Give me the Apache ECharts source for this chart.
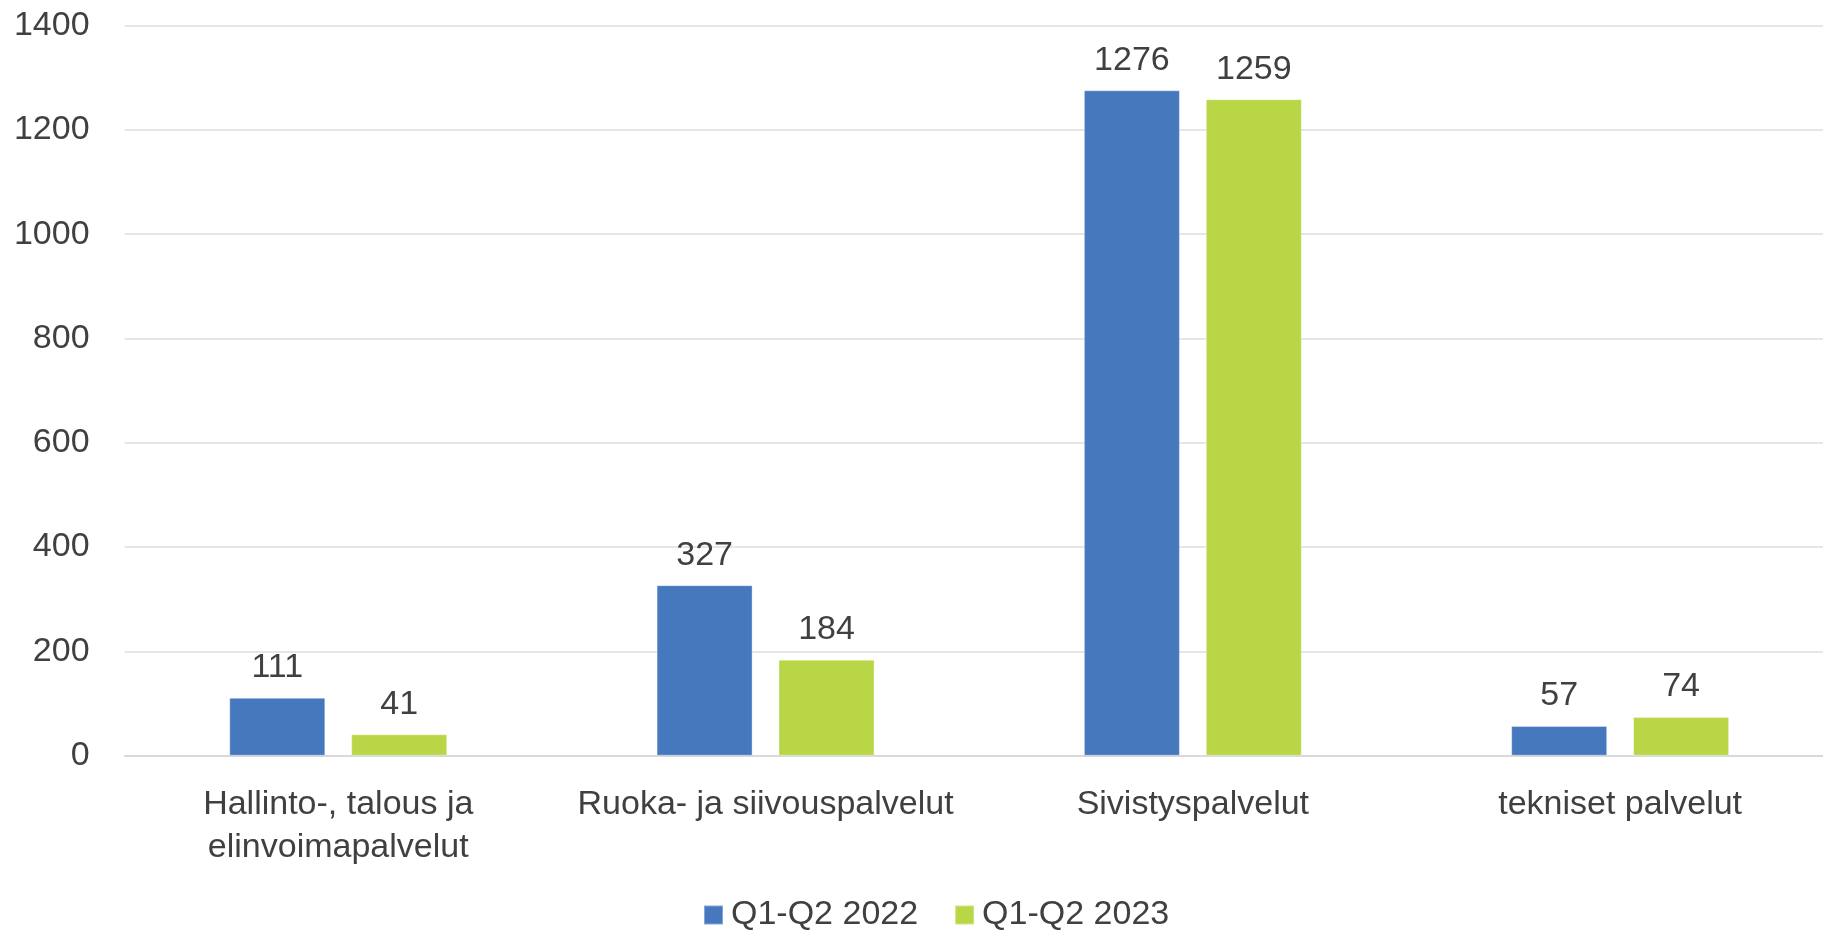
<!DOCTYPE html>
<html>
<head>
<meta charset="utf-8">
<script src="https://cdn.jsdelivr.net/npm/echarts@6/dist/echarts.min.js"></script>
<style>
html,body{margin:0;padding:0;background:#fff;}
#c{width:1823px;height:932px;}
</style>
</head>
<body>
<div id="c"></div>
<script>
const categories = ['Hallinto-, talous ja\nelinvoimapalvelut', 'Ruoka- ja siivouspalvelut', 'Sivistyspalvelut', 'tekniset palvelut'];
const seriesNames = ['Q1-Q2 2022', 'Q1-Q2 2023'];
const values2022 = [111, 327, 1276, 57];
const values2023 = [41, 184, 1259, 74];
const yTicks = { min: 0, max: 1400, interval: 200 };

const FONT = '"Liberation Sans", Arial, sans-serif';
const TXT = '#404040';
const FS = 34;
const colors = ['#4678BE', '#B9D646'];

const chart = echarts.init(document.getElementById('c'));
const mk = (name, data, color) => ({
  name, type: 'bar', data,
  barWidth: 96, barGap: '27%',
  itemStyle: { color, borderColor: 'rgba(255,255,255,0.35)', borderWidth: 1 },
  label: { show: true, position: 'top', distance: 13, color: TXT, fontFamily: FONT, fontSize: FS },
  emphasis: { disabled: true }
});
chart.setOption({
  animation: false,
  grid: { left: 124.6, width: 1709.2, top: 25.6, bottom: 176.3, outerBoundsMode: 'none', containLabel: false },
  legend: {
    data: seriesNames, top: 893, left: 698,
    itemWidth: 19, itemHeight: 19, itemGap: 36,
    icon: 'rect',
    textStyle: { color: TXT, fontFamily: FONT, fontSize: FS, padding: [0, 0, 0, 3] }
  },
  xAxis: {
    type: 'category', data: categories,
    axisLine: { show: true, lineStyle: { color: '#D9D9D9', width: 2 } },
    axisTick: { show: false },
    axisLabel: { color: TXT, fontFamily: FONT, fontSize: FS, margin: 27, lineHeight: 43, interval: 0 }
  },
  yAxis: {
    type: 'value', min: yTicks.min, max: yTicks.max, interval: yTicks.interval,
    axisLine: { show: false }, axisTick: { show: false },
    axisLabel: { color: TXT, fontFamily: FONT, fontSize: FS, margin: 35, formatter: v => String(v) },
    splitLine: { lineStyle: { color: '#DEDEDE', width: 1.6 } }
  },
  series: [mk(seriesNames[0], values2022, colors[0]), mk(seriesNames[1], values2023, colors[1])]
});
</script>
</body>
</html>
